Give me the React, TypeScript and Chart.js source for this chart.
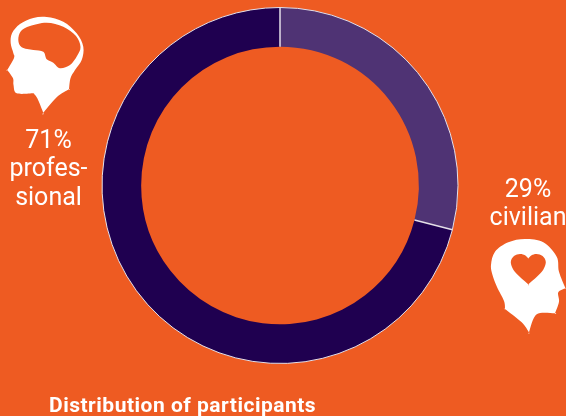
import React, { useEffect, useRef } from "react";
import { Chart, registerables } from "chart.js";

Chart.register(...registerables);

const categories = ["civilian", "professional"];
const shares = [29, 71];
const sliceColors = ["#4f3374", "#1f0050"];
const background = "#ee5b22";
const rimColor = "#e4dfe8";
const fontFamily = "Roboto, sans-serif";

const professionalLines = ["71%", "profes-", "sional"];
const civilianLines = ["29%", "civilian"];
const caption = "Distribution of participants";

type Pt = [number, number];

// Icon outlines; a repeated point keeps a sharp corner when the outline is smoothed
const brainHeadOutline: Pt[] = [
  [43.3, 112.7], [43.3, 112.7], [37.3, 98.3], [33.3, 93.3], [33.3, 93.3], [16.7, 93.3], [13.5, 85], [13, 78.3],
  [7.3, 70], [7.3, 70], [14, 58], [13.3, 53], [10.7, 43.3], [12, 33.3], [20, 24], [33.3, 18],
  [46.7, 17], [63.3, 21.7], [76.7, 33.3], [83.3, 46.7], [81.7, 60], [75, 70], [70.5, 78.3],
  [69, 89.3], [69, 89.3], [56.7, 97.3],
];
const brainOutline: Pt[] = [
  [30, 26], [21, 31], [18.3, 40], [21.7, 47.3], [33.3, 50], [43.3, 51.7], [46.7, 59.3], [53.3, 62.7],
  [60, 68.3], [70, 65], [77, 56], [80.5, 47], [76, 36], [63.3, 26.7], [46.7, 22.7],
];
const heartHeadOutline: Pt[] = [
  [529, 332.3], [529, 332.3], [521.7, 322.3], [505, 309], [505, 309], [504, 301], [497, 287], [492.5, 275], [491, 265],
  [495, 251.7], [508.3, 242.3], [525, 239], [543.3, 242.3], [556.7, 256.7], [559, 271.7], [565.5, 288.3],
  [565.5, 288.3], [558.3, 292.3], [559, 301.7], [555, 313.3], [555, 313.3], [536.7, 314.3],
];
const heartOutline: Pt[] = [
  [528.3, 284.3], [528.3, 284.3], [520, 277], [513.5, 270], [510.8, 262], [514, 256], [520, 254], [525, 255.3],
  [528.3, 258.5], [528.3, 258.5], [531.6, 255.3], [536.6, 254], [542.6, 256], [545.8, 262], [543.1, 270], [536.6, 277],
];

// Traces a closed Catmull-Rom curve through every point of an outline
function traceOutline(path: Path2D, points: Pt[]) {
  const n = points.length;
  const at = (i: number) => points[(i + n) % n];
  path.moveTo(points[0][0], points[0][1]);
  for (let i = 0; i < n; i++) {
    const [p0, p1, p2, p3] = [at(i - 1), at(i), at(i + 1), at(i + 2)];
    path.bezierCurveTo(
      p1[0] + (p2[0] - p0[0]) / 6,
      p1[1] + (p2[1] - p0[1]) / 6,
      p2[0] - (p3[0] - p1[0]) / 6,
      p2[1] - (p3[1] - p1[1]) / 6,
      p2[0],
      p2[1],
    );
  }
  path.closePath();
}

export default function App() {
  const canvasRef = useRef<HTMLCanvasElement>(null);

  useEffect(() => {
    const canvas = canvasRef.current;
    if (!canvas) return;

    // Light outer rim and slice separators; the inner edge of the ring stays bare
    const ringEdges = {
      id: "ringEdges",
      afterDatasetsDraw(chart: Chart) {
        const { ctx } = chart;
        ctx.save();
        ctx.strokeStyle = rimColor;
        chart.getDatasetMeta(0).data.forEach((el: any) => {
          const { x, y, startAngle, endAngle, innerRadius, outerRadius } = el.getProps([
            "x", "y", "startAngle", "endAngle", "innerRadius", "outerRadius",
          ]);
          ctx.lineWidth = 1;
          ctx.beginPath();
          ctx.arc(x, y, outerRadius, startAngle, endAngle);
          ctx.stroke();
          ctx.lineWidth = 1.5;
          ctx.beginPath();
          ctx.moveTo(x + innerRadius * Math.cos(startAngle), y + innerRadius * Math.sin(startAngle));
          ctx.lineTo(x + outerRadius * Math.cos(startAngle), y + outerRadius * Math.sin(startAngle));
          ctx.stroke();
        });
        ctx.restore();
      },
    };

    // Draws the two heads, their percentage labels and the caption
    const annotations = {
      id: "annotations",
      afterDraw(chart: Chart) {
        const { ctx } = chart;
        ctx.save();
        ctx.fillStyle = "#ffffff";
        const brainHead = new Path2D();
        traceOutline(brainHead, brainHeadOutline);
        traceOutline(brainHead, brainOutline);
        ctx.fill(brainHead, "evenodd");
        const heartHead = new Path2D();
        traceOutline(heartHead, heartHeadOutline);
        traceOutline(heartHead, heartOutline);
        ctx.fill(heartHead, "evenodd");

        ctx.textBaseline = "alphabetic";
        ctx.textAlign = "center";
        ctx.font = `400 25px ${fontFamily}`;
        [148, 176, 205].forEach((y, i) => ctx.fillText(professionalLines[i], 48.5, y));
        [197, 225].forEach((y, i) => ctx.fillText(civilianLines[i], 528, y));

        ctx.textAlign = "left";
        ctx.font = `700 21px ${fontFamily}`;
        (ctx as any).letterSpacing = "0.5px";
        ctx.fillText(caption, 49, 411.5);
        ctx.restore();
      },
    };

    const chart = new Chart(canvas, {
      type: "doughnut",
      data: {
        labels: categories,
        datasets: [
          {
            data: shares,
            backgroundColor: sliceColors,
            borderWidth: 0,
          },
        ],
      },
      options: {
        responsive: false,
        animation: false,
        cutout: "78%",
        layout: { padding: { left: 102, right: 108, top: 7.5, bottom: 52.5 } },
        plugins: {
          legend: { display: false },
          title: { display: false },
          tooltip: { enabled: false },
        },
      },
      plugins: [ringEdges, annotations],
    });

    return () => chart.destroy();
  }, []);

  return (
    <div style={{ position: "fixed", inset: 0, background, overflow: "hidden" }}>
      <canvas ref={canvasRef} width={566} height={416} style={{ display: "block" }} />
    </div>
  );
}
